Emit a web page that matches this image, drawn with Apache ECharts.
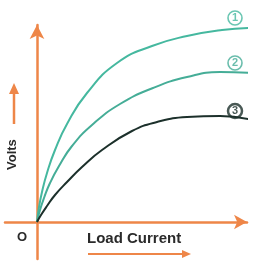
<!DOCTYPE html>
<html>
<head>
<meta charset="utf-8">
<style>
  html, body { margin: 0; padding: 0; background: #fff; }
  #chart-container { width: 255px; height: 261px; }
</style>
<script src="https://cdn.jsdelivr.net/npm/echarts@6/dist/echarts.min.js"></script>
</head>
<body>
<div id="chart-container"></div>
<script>
// curves, [load current, volts] in plot units (origin = 0,0)
var curve1 = [[0, 0], [2, 15], [5, 30], [10, 49], [18, 72], [30, 98], [50, 129], [80, 159], [115, 176], [150, 186], [185, 192], [214, 194]];
var curve2 = [[0, 0], [3, 12], [7, 24], [13, 39], [22, 56], [35, 76], [55, 97], [83, 118], [116, 134], [150, 145], [183, 150], [213, 149]];
var curve3 = [[0, 0], [4, 7], [10, 16], [18, 27], [30, 40], [45, 55], [65, 72], [95, 91], [120, 100], [150, 105], [183, 106], [215, 102]];
var curveNames = ["1", "2", "3"];
var tagPos = [[198, 204], [198, 159], [198, 111]];

var orange = "#ee8648";
var teal = "#45b89f";
var teal2 = "#45ad97";
var dark = "#1c302b";
var colors = [teal, teal2, dark];

var dom = document.getElementById("chart-container");
var myChart = echarts.init(dom, null, { renderer: "canvas" });

function lineSeries(data, color) {
  return {
    type: "line",
    data: data,
    smooth: 0.5,
    showSymbol: false,
    clip: false,
    silent: true,
    lineStyle: { color: color, width: 2 }
  };
}

var option = {
  animation: false,
  grid: { left: 5, right: 8, top: 25, bottom: 2 },
  xAxis: {
    type: "value",
    min: -32,
    max: 210,
    splitLine: { show: false },
    axisTick: { show: false },
    axisLabel: { show: false },
    axisLine: {
      onZero: true,
      symbol: ["none", "arrow"],
      symbolSize: [11, 13],
      lineStyle: { color: orange, width: 2.5 }
    }
  },
  yAxis: {
    type: "value",
    min: -37,
    max: 197,
    splitLine: { show: false },
    axisTick: { show: false },
    axisLabel: { show: false },
    axisLine: {
      onZero: true,
      symbol: ["none", "arrow"],
      symbolSize: [11, 14],
      lineStyle: { color: orange, width: 2.5 }
    }
  },
  series: [
    lineSeries(curve1, colors[0]),
    lineSeries(curve2, colors[1]),
    lineSeries(curve3, colors[2]),
    {
      type: "scatter",
      clip: false,
      silent: true,
      symbol: "circle",
      symbolSize: 14,
      data: tagPos.map(function (p, i) {
        return {
          value: p,
          name: curveNames[i],
          itemStyle: {
            color: "rgba(255,255,255,0.85)",
            borderColor: colors[i],
            borderWidth: i === 2 ? 2.5 : 1.6
          },
          label: { color: colors[i] }
        };
      }),
      label: {
        show: true,
        position: "inside",
        formatter: "{b}",
        fontFamily: "Liberation Sans",
        fontWeight: "bold",
        fontSize: 11
      }
    }
  ],
  graphic: [
    {
      type: "text",
      left: 17,
      top: 231,
      style: { text: "O", font: "bold 13px 'Liberation Sans'", fill: "#2a2a2a" }
    },
    {
      type: "text",
      left: 87,
      top: 231,
      style: { text: "Load Current", font: "bold 15px 'Liberation Sans'", fill: "#2a2a2a" }
    },
    {
      type: "line",
      shape: { x1: 88, y1: 254, x2: 184, y2: 254 },
      style: { stroke: orange, lineWidth: 2 }
    },
    {
      type: "polygon",
      shape: { points: [[191, 254], [182, 250], [182, 258]] },
      style: { fill: orange }
    },
    {
      type: "text",
      x: 6,
      y: 170,
      rotation: Math.PI / 2,
      style: { text: "Volts", font: "bold 13px 'Liberation Sans'", fill: "#2a2a2a" }
    },
    {
      type: "line",
      shape: { x1: 14, y1: 124, x2: 14, y2: 92 },
      style: { stroke: orange, lineWidth: 2.5 }
    },
    {
      type: "polygon",
      shape: { points: [[14, 83], [9, 94], [19, 94]] },
      style: { fill: orange }
    }
  ]
};

myChart.setOption(option);
window.addEventListener("resize", myChart.resize);
</script>
</body>
</html>
